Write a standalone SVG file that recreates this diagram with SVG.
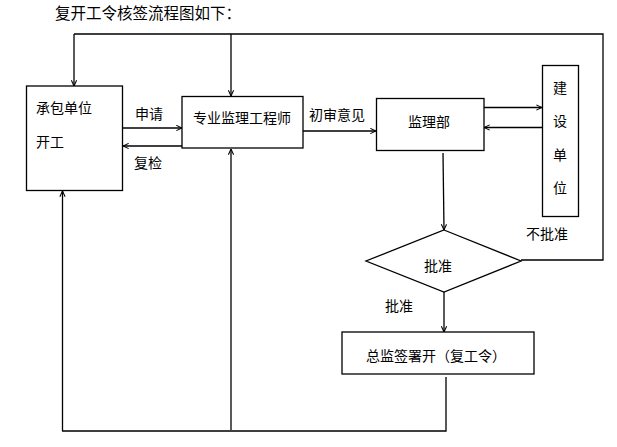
<svg xmlns="http://www.w3.org/2000/svg" width="617" height="447" viewBox="0 0 617 447">
<defs>
<marker id="ah" viewBox="0 0 8 8" refX="7.5" refY="4" markerWidth="7" markerHeight="7" markerUnits="userSpaceOnUse" orient="auto">
<path d="M1,1 L7.5,4 L1,7" fill="none" stroke="#000" stroke-width="1.2"/>
</marker>
</defs>
<style>
.box{fill:#fff;stroke:#000;stroke-width:1.3}
.ln{fill:none;stroke:#000;stroke-width:1.3}
.ar{fill:none;stroke:#000;stroke-width:1.3;marker-end:url(#ah)}
text{font-family:"Noto Sans CJK SC","Noto Sans",sans-serif;font-size:14px;fill:#000}
.t{font-size:15.5px}
</style>
<rect width="617" height="447" fill="#fff"/>
<text class="t" x="55" y="19">复开工令核签流程图如下：</text>
<g id="connectors">
<polyline class="ln" points="521,260 603,260 603,34 74,34"/>
<line class="ar" x1="74" y1="34" x2="74" y2="86"/>
<line class="ar" x1="231" y1="34" x2="231" y2="96"/>
<line class="ar" x1="123" y1="128" x2="182" y2="128"/>
<line class="ar" x1="182" y1="146" x2="123" y2="146"/>
<line class="ar" x1="303" y1="131" x2="376" y2="131"/>
<line class="ar" x1="482" y1="107.5" x2="542" y2="107.5"/>
<line class="ar" x1="542" y1="127.5" x2="484" y2="127.5"/>
<line class="ar" x1="443" y1="153" x2="444" y2="230"/>
<line class="ar" x1="444" y1="292" x2="444" y2="332"/>
<polyline class="ln" points="446,377 446,431 62,431"/>
<line class="ar" x1="62.5" y1="431" x2="62.5" y2="191"/>
<line class="ar" x1="231" y1="430" x2="231" y2="149"/>
<text x="135" y="119">申请</text>
<text x="134" y="168">复检</text>
<text x="309" y="120">初审意见</text>
<text x="526" y="239">不批准</text>
<text x="385" y="311">批准</text>
</g>
<g id="contractor">
<rect class="box" x="26.5" y="86" width="96" height="104.5"/>
<text x="36" y="113">承包单位</text>
<text x="36" y="147">开工</text>
</g>
<g id="engineer">
<rect class="box" x="182" y="96.5" width="121" height="51.5"/>
<text x="193" y="123">专业监理工程师</text>
</g>
<g id="supervision">
<rect class="box" x="376.5" y="98.5" width="107.5" height="52"/>
<text x="408" y="127">监理部</text>
</g>
<g id="owner">
<rect class="box" x="542.5" y="65.5" width="36" height="151"/>
<text x="553" y="93">建</text>
<text x="553" y="126">设</text>
<text x="553" y="160">单</text>
<text x="553" y="193">位</text>
</g>
<g id="decision">
<polygon class="box" points="444,230 521,261 444,292 366,261"/>
<text x="424" y="271">批准</text>
</g>
<g id="chief">
<rect class="box" x="342" y="332" width="192" height="42"/>
<text x="366" y="361">总监签署开（复工令）</text>
</g>
</svg>
